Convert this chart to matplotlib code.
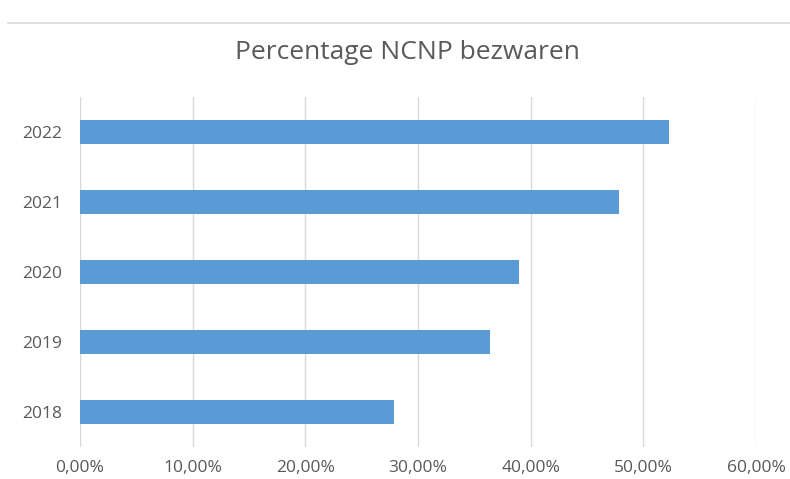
import matplotlib.pyplot as plt
from matplotlib.ticker import FuncFormatter
from matplotlib.lines import Line2D

years = ['2018', '2019', '2020', '2021', '2022']
percentages = [27.9, 36.4, 39.0, 47.8, 52.3]
x_ticks = [0, 10, 20, 30, 40, 50, 60]

plt.rcParams['font.family'] = ['Open Sans', 'DejaVu Sans']

fig = plt.figure(figsize=(7.9, 4.79), dpi=100)
ax = fig.add_axes([0.1013, 0.0668, 0.8557, 0.7307])

ax.barh(years, percentages, height=0.34, color='#5B9BD5', zorder=3)
ax.set_xlim(0, 60)
ax.set_ylim(-0.5, 4.5)
ax.set_xticks(x_ticks)
ax.xaxis.set_major_formatter(FuncFormatter(lambda v, p: f'{v:.2f}%'.replace('.', ',')))
ax.grid(axis='x', color='#d9d9d9', linewidth=1, zorder=0)
for s in ax.spines.values():
    s.set_visible(False)
ax.tick_params(length=0, labelsize=12.5, labelcolor='#595959')
ax.tick_params(axis='x', pad=9)
ax.tick_params(axis='y', pad=13)

fig.text(0.516, 0.89, 'Percentage NCNP bezwaren', ha='center', va='center',
         fontsize=19, color='#595959')
fig.add_artist(Line2D([0.01, 1.0], [0.952, 0.952], color='#d9d9d9', linewidth=1.2))

fig.savefig('out.png', dpi=100)
